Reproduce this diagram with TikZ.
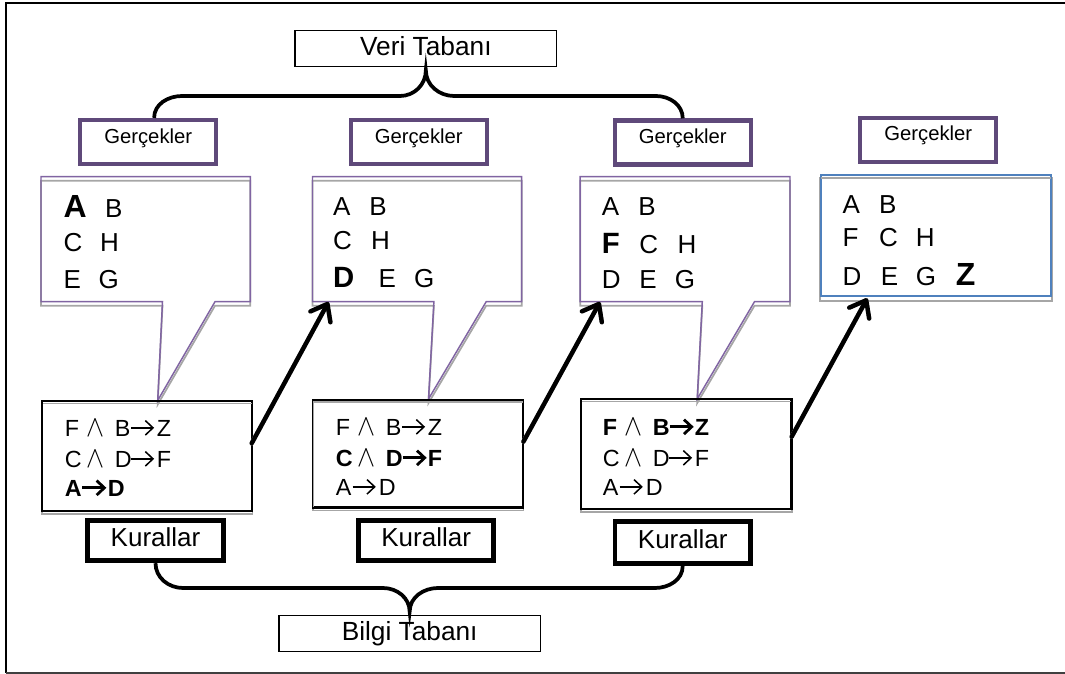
\documentclass[tikz,border=0pt]{standalone}
\usepackage{fontspec}
\usepackage{graphicx}
\setmainfont{Liberation Sans}
\usetikzlibrary{arrows.meta}
\definecolor{calloutpurple}{HTML}{8064A2}
\definecolor{gercpurple}{HTML}{5F497A}
\definecolor{boxblue}{HTML}{4F81BD}
\definecolor{shadowgray}{HTML}{A6A6A6}
\definecolor{framegray}{HTML}{404040}
\newcommand\putat[2]{\makebox[0pt][l]{\hspace*{#1}#2}}
\newcommand\andop{\resizebox{13.5pt}{12.6pt}{$\wedge$}}
\newcommand\rarw[2]{\tikz[baseline=0pt]{\draw[line width=#1,line cap=butt] (0pt,0.35em) -- (#2,0.35em); \draw[line width=#1,line join=miter] (#2,0.35em) ++(-0.33em,0.31em) -- ++(0.33em,-0.31em) -- ++(-0.33em,-0.31em);}}
\newcommand\ra{\rarw{0.065em}{16.5pt}}
\newcommand\rab{\rarw{0.12em}{16.5pt}}
\newcommand\bigb[1]{{\bfseries\fontsize{24pt}{28pt}\selectfont #1}}
\newcommand\medb[1]{{\bfseries\fontsize{22pt}{26pt}\selectfont #1}}
% rule lines: X and Y -> Z, and X -> Y
\newcommand\ruleand[4]{\putat{0pt}{#1}\putat{16.5pt}{\andop}\putat{37.5pt}{#2}\putat{49pt}{#4}\putat{69pt}{#3}}
\newcommand\ruleimp[3]{\putat{0pt}{#1}\putat{12pt}{#3}\putat{32.25pt}{#2}}
\begin{document}
\begin{tikzpicture}[x=0.75pt,y=-0.75pt,
  thinbox/.style={draw=black, line width=1.1pt, inner sep=0pt, minimum width=196.2pt, minimum height=26.7pt, font=\fontsize{19.7pt}{23pt}\selectfont, text height=14.2pt, text depth=4.4pt},
  gbox/.style={draw=gercpurple, line width=3.2pt, inner sep=0pt, minimum width=102pt, minimum height=33pt, font=\fontsize{15.2pt}{18pt}\selectfont, text height=11pt, text depth=9.5pt},
  kbox/.style={draw=black, line width=3.6pt, inner sep=0pt, minimum width=101.6pt, minimum height=30.4pt, font=\fontsize{19.5pt}{23pt}\selectfont, text height=14pt, text depth=4.7pt},
  rbox/.style={draw=black, line width=1.1pt, inner sep=0pt, minimum width=157pt, minimum height=81.75pt},
  factbox/.style={draw=boxblue, line width=1.1pt, inner sep=0pt, minimum width=172.5pt, minimum height=90.75pt},
  calloutline/.style={draw=calloutpurple, line width=1.1pt, line join=miter},
  shadowline/.style={draw=shadowgray, line width=1.3pt},
  ctext/.style={anchor=base west, inner sep=0pt, font=\fontsize{19.5pt}{23pt}\selectfont},
  rtext/.style={anchor=base west, inner sep=0pt, font=\fontsize{17.5pt}{21pt}\selectfont},
  brace/.style={draw=black, line width=2.8pt},
  fatarrow/.style={draw=black, line width=3.3pt, -{Straight Barb[length=11pt,width=17pt,round]}, line cap=round},
  fatshadow/.style={fatarrow, draw=black!30, xshift=1.3pt, yshift=-1.3pt},
]
\useasboundingbox (0,0) rectangle (1065,674);
% frame
\draw[line width=1.7pt] (1065,3) -- (5.5,3);
\draw[line width=1.5pt] (6,2.2) -- (6,673);
\draw[line width=1.5pt, draw=framegray] (6,672.5) -- (1065,672.5);

% callout shadows
\draw[shadowline, yshift=-3pt] (41,176.7) -- (250.3,176.7) -- (250.3,301.7) -- (215,301.7) -- (157.7,400.5) -- (162.5,301.7) -- (41,301.7) -- cycle;
\draw[shadowline, yshift=-3pt] (312.5,176.7) -- (521.7,176.7) -- (521.7,301.7) -- (486.2,301.7) -- (428.5,399) -- (433.9,301.7) -- (312.5,301.7) -- cycle;
\draw[shadowline, yshift=-3pt] (580.2,176.7) -- (790,176.7) -- (790,301.7) -- (754.5,301.7) -- (697.2,399) -- (702.3,301.7) -- (580.2,301.7) -- cycle;
% callouts
\draw[calloutline] (41,176.7) -- (250.3,176.7) -- (250.3,301.7) -- (215,301.7) -- (157.7,400.5) -- (162.5,301.7) -- (41,301.7) -- cycle;
\draw[calloutline] (312.5,176.7) -- (521.7,176.7) -- (521.7,301.7) -- (486.2,301.7) -- (428.5,399) -- (433.9,301.7) -- (312.5,301.7) -- cycle;
\draw[calloutline] (580.2,176.7) -- (790,176.7) -- (790,301.7) -- (754.5,301.7) -- (697.2,399) -- (702.3,301.7) -- (580.2,301.7) -- cycle;

% final facts box
\node[factbox] (b4) at (936,235.5) {};
\draw[shadowline] ([yshift=-3pt]b4.north west) rectangle ([yshift=-3pt]b4.south east);
\draw[draw=boxblue, line width=1.1pt] (b4.north west) rectangle (b4.south east);

% rule boxes
\node[rbox] (r1) at (147.2,456) {};
\node[rbox, minimum height=80.25pt] (r2) at (418.1,453.7) {};
\node[rbox] (r3) at (686.4,454) {};
\foreach \r in {r1,r2,r3}{
  \draw[shadowline] ([yshift=-2pt]\r.north west) rectangle ([yshift=-2pt]\r.south east);
  \draw[line width=1.1pt] (\r.north west) rectangle (\r.south east);
}

% titles
\node[thinbox] (veri) at (425.85,48.5) {Veri Tabanı};
\node[thinbox] (bilgi) at (409.65,633.5) {Bilgi Tabanı};

\node[gbox] (g1) at (148.25,142) {Gerçekler};
\node[gbox] (g2) at (418.75,142) {Gerçekler};
\node[gbox] (g3) at (682.75,142.5) {Gerçekler};
\node[gbox] (g4) at (928.3,140) {Gerçekler};

\node[kbox] (k1) at (155.5,540.5) {Kurallar};
\node[kbox] (k2) at (426.15,540.5) {Kurallar};
\node[kbox, minimum height=31.7pt] (k3) at (682.7,542.5) {Kurallar};

% facts text
\node[ctext] (c1a) at (62.7,218) {\putat{0pt}{\bigb{A}}\putat{31.2pt}{B}};
\node[ctext] (c1b) at (62.7,251.7) {\putat{0pt}{C}\putat{27.45pt}{H}};
\node[ctext] (c1c) at (62.7,288) {\putat{0pt}{E}\putat{26.25pt}{G}};

\node[ctext] (c2a) at (332.3,215) {\putat{0pt}{A}\putat{27.15pt}{B}};
\node[ctext] (c2b) at (332.3,249.3) {\putat{0pt}{C}\putat{28.4pt}{H}};
\node[ctext] (c2c) at (332.3,287.3) {\putat{0pt}{\medb{D}}\putat{34.1pt}{E}\putat{60.7pt}{G}};

\node[ctext] (c3a) at (601,215) {\putat{0pt}{A}\putat{27.4pt}{B}};
\node[ctext] (c3b) at (601,253) {\putat{0pt}{\medb{F}}\putat{28.1pt}{C}\putat{56.8pt}{H}};
\node[ctext] (c3c) at (601,288) {\putat{0pt}{D}\putat{28.1pt}{E}\putat{54.75pt}{G}};

\node[ctext] (c4a) at (841.7,213.3) {\putat{0pt}{A}\putat{27.45pt}{B}};
\node[ctext] (c4b) at (841.7,246.7) {\putat{0pt}{F}\putat{27.45pt}{C}\putat{55pt}{H}};
\node[ctext] (c4c) at (841.7,285) {\putat{0pt}{D}\putat{28.7pt}{E}\putat{55pt}{G}\putat{85pt}{\bigb{Z}}};

% rules text
\node[rtext] (r1a) at (64,436) {\ruleand{F}{B}{Z}{\ra}};
\node[rtext] (r1b) at (64,467) {\ruleand{C}{D}{F}{\ra}};
\node[rtext] (r1c) at (64,496) {\bfseries\ruleimp{A}{D}{\rab}};

\node[rtext] (r2a) at (335,435) {\ruleand{F}{B}{Z}{\ra}};
\node[rtext] (r2b) at (335,466) {\bfseries\ruleand{C}{D}{F}{\rab}};
\node[rtext] (r2c) at (335,495) {\ruleimp{A}{D}{\ra}};

\node[rtext] (r3a) at (602,435) {\bfseries\ruleand{F}{B}{Z}{\rab}};
\node[rtext] (r3b) at (602,466) {\ruleand{C}{D}{F}{\ra}};
\node[rtext] (r3c) at (602,495) {\ruleimp{A}{D}{\ra}};

% braces
\draw[brace] ([xshift=4.4pt]g1.north) to[out=90,in=180] (182,96) -- (400,96) to[out=0,in=-90] ([yshift=-2.5pt]veri.south) to[out=-90,in=180] (454,96) -- (656,96) to[out=0,in=90] (g3.north);
\draw[brace] (k1.south) to[out=-90,in=180] (183,588) -- (383,588) to[out=0,in=90] ([yshift=2.5pt]bilgi.north) to[out=90,in=180] (438,588) -- (655,588) to[out=0,in=-90] (k3.south);

% inference arrows
\coordinate (a1s) at (251.7,443.3); \coordinate (a1e) at (328.5,302);
\coordinate (a2s) at (523.4,441.7); \coordinate (a2e) at (600,302);
\coordinate (a3s) at (791.7,436.7); \coordinate (a3e) at (867.3,298.3);
\draw[fatshadow] (a1s) -- (a1e);
\draw[fatshadow] (a2s) -- (a2e);
\draw[fatshadow] (a3s) -- (a3e);
\draw[fatarrow] (a1s) -- (a1e);
\draw[fatarrow] (a2s) -- (a2e);
\draw[fatarrow] (a3s) -- (a3e);
\end{tikzpicture}
\end{document}
